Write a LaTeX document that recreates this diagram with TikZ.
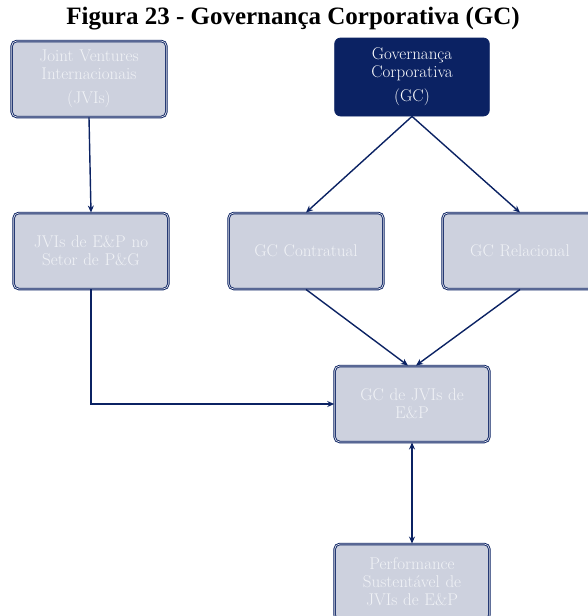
\documentclass[tikz,border=0pt]{standalone}
\usepackage{fontspec}
\newfontfamily\titlefont{Liberation Serif}
\usetikzlibrary{arrows.meta}
\definecolor{navy}{HTML}{0B2263}
\definecolor{boxfill}{HTML}{CDD1DE}
\definecolor{boxtext}{HTML}{F0F2F6}
\tikzset{
  gcbox/.style={draw=navy, double=boxfill!50!white, double distance=0.7pt, line width=0.9pt,
    fill=boxfill, rounded corners=5pt, minimum width=152pt, minimum height=76pt,
    text width=148pt, align=center, text=boxtext, font=\fontsize{17}{18}\selectfont},
  gctop/.style={draw=navy, fill=navy, line width=0.8pt, rounded corners=6pt,
    minimum width=154pt, minimum height=78pt, text width=148pt, align=center,
    text=white, font=\fontsize{17}{18}\selectfont},
  link/.style={-{Stealth[length=7pt,width=6pt]}, draw=navy, line width=1.4pt}
}
\begin{document}
\begin{tikzpicture}[x=1pt, y=-1pt]

    \useasboundingbox (0,0) rectangle (587,616);

    % Draw title
    \node[font=\titlefont\bfseries\fontsize{25}{27}\selectfont] (title) at (293, 19) {Figura 23 - Governança Corporativa (GC)};

    % Top row
    % Draw joint ventures box
    \node[gcbox] (jvi) at (89, 79) {Joint Ventures\\Internacionais\\[6pt](JVIs)};
    % Draw corporate governance box
    \node[gctop] (gc) at (412, 77) {Governança\\Corporativa\\[6pt](GC)};

    % Middle row
    \node[gcbox] (jvi_ep) at (91, 251) {JVIs de E\&P no\\Setor de P\&G};
    \node[gcbox] (gc_con) at (306, 251) {GC Contratual};
    \node[gcbox] (gc_rel) at (520, 251) {GC Relacional};

    % Lower boxes
    \node[gcbox] (gc_jvi) at (412, 404) {GC de JVIs de\\E\&P};
    \node[gcbox] (perf) at (412, 582) {Performance\\Sustentável de\\JVIs de E\&P};

    % Draw arrows from top row
    \draw[link] (jvi.south) -- (jvi_ep.north);
    \draw[link] (gc.south) -- (gc_con.north);
    \draw[link] (gc.south) -- (gc_rel.north);

    % Draw arrows into GC de JVIs
    \draw[link] (gc_con.south) -- ([xshift=-4pt]gc_jvi.north);
    \draw[link] (gc_rel.south) -- ([xshift=4pt]gc_jvi.north);
    \draw[link] (jvi_ep.south) |- (gc_jvi.west);

    % Draw double arrow to performance
    \draw[link, {Stealth[length=7pt,width=6pt]}-{Stealth[length=7pt,width=6pt]}] (gc_jvi.south) -- (perf.north);

\end{tikzpicture}
\end{document}
